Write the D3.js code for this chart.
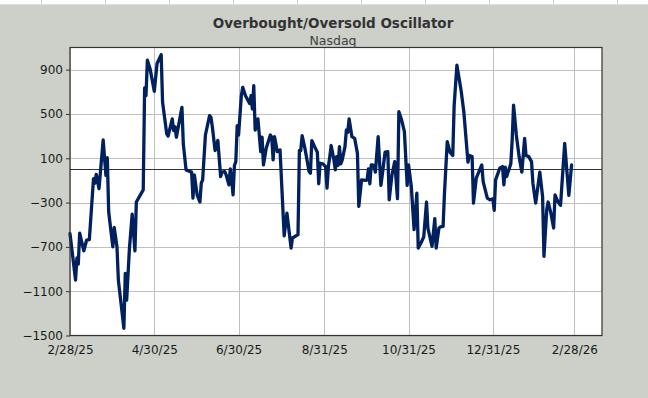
<!DOCTYPE html>
<html>
<head>
<meta charset="utf-8">
<script src="https://cdn.jsdelivr.net/npm/d3@7"></script>
<style>
  html, body { margin: 0; padding: 0; background: #CCD0C9; }
  svg { display: block; }
  text { font-family: "DejaVu Sans", Verdana, sans-serif; }
</style>
</head>
<body>
<svg id="chart" width="648" height="398"></svg>
<script>
const title = "Overbought/Oversold Oscillator";
const subtitle = "Nasdaq";

const dates = [
"2025-02-28","2025-03-04","2025-03-05","2025-03-06","2025-03-07","2025-03-10","2025-03-12","2025-03-14","2025-03-17","2025-03-18",
"2025-03-19","2025-03-21","2025-03-24","2025-03-26","2025-03-27","2025-03-28","2025-03-31","2025-04-01","2025-04-03","2025-04-04",
"2025-04-08","2025-04-09","2025-04-10","2025-04-12","2025-04-14","2025-04-16","2025-04-17","2025-04-22","2025-04-23","2025-04-24",
"2025-04-25","2025-04-27","2025-04-30","2025-05-02","2025-05-05","2025-05-06","2025-05-09","2025-05-10","2025-05-13","2025-05-14",
"2025-05-15","2025-05-16","2025-05-20","2025-05-21","2025-05-23","2025-05-27","2025-05-28","2025-05-29","2025-05-31","2025-06-02",
"2025-06-03","2025-06-04","2025-06-06","2025-06-09","2025-06-10","2025-06-11","2025-06-13","2025-06-15","2025-06-17","2025-06-18",
"2025-06-20","2025-06-21","2025-06-23","2025-06-24","2025-06-25","2025-06-26","2025-06-27","2025-06-28","2025-06-29","2025-06-30",
"2025-07-02","2025-07-03","2025-07-05","2025-07-08","2025-07-09","2025-07-10","2025-07-11","2025-07-12","2025-07-14","2025-07-16",
"2025-07-17","2025-07-18","2025-07-20","2025-07-23","2025-07-24","2025-07-25","2025-07-26","2025-07-28","2025-07-30","2025-08-02",
"2025-08-04","2025-08-07","2025-08-08","2025-08-12","2025-08-13","2025-08-14","2025-08-15","2025-08-17","2025-08-20","2025-08-21",
"2025-08-22","2025-08-24","2025-08-26","2025-08-27","2025-08-28","2025-08-30","2025-09-01","2025-09-02","2025-09-03","2025-09-04",
"2025-09-05","2025-09-07","2025-09-08","2025-09-09","2025-09-10","2025-09-11","2025-09-12","2025-09-13","2025-09-15","2025-09-16",
"2025-09-17","2025-09-18","2025-09-20","2025-09-22","2025-09-24","2025-09-25","2025-09-27","2025-09-30","2025-10-01","2025-10-02",
"2025-10-03","2025-10-04","2025-10-05","2025-10-06","2025-10-07","2025-10-09","2025-10-11","2025-10-12","2025-10-14","2025-10-16",
"2025-10-17","2025-10-19","2025-10-21","2025-10-22","2025-10-23","2025-10-24","2025-10-26","2025-10-28","2025-10-30","2025-10-31",
"2025-11-02","2025-11-04","2025-11-06","2025-11-07","2025-11-09","2025-11-11","2025-11-13","2025-11-14","2025-11-17","2025-11-19",
"2025-11-20","2025-11-22","2025-11-23","2025-11-25","2025-11-26","2025-11-28","2025-11-30","2025-12-02","2025-12-03","2025-12-05",
"2025-12-08","2025-12-10","2025-12-13","2025-12-14","2025-12-16","2025-12-17","2025-12-19","2025-12-23","2025-12-24","2025-12-27",
"2025-12-29","2025-12-31","2026-01-01","2026-01-02","2026-01-05","2026-01-07","2026-01-08","2026-01-09","2026-01-10","2026-01-13",
"2026-01-14","2026-01-15","2026-01-17","2026-01-19","2026-01-21","2026-01-23","2026-01-24","2026-01-26","2026-01-28","2026-01-29",
"2026-01-31","2026-02-03","2026-02-05","2026-02-06","2026-02-08","2026-02-09","2026-02-11","2026-02-13","2026-02-14","2026-02-16",
"2026-02-18","2026-02-21","2026-02-24","2026-02-26"
];

const values = [
-580,-1000,-800,-855,-575,-735,-640,-635,-85,-125,
-45,-175,265,-55,105,-385,-700,-525,-700,-1000,
-1435,-940,-1180,-715,-405,-735,-295,-185,735,665,
985,905,705,955,1035,605,320,300,455,350,
385,290,560,230,-5,-25,-260,-50,-230,-295,
-125,-95,310,485,470,385,170,260,-65,-25,
-20,-50,-140,5,-95,-230,35,70,395,310,
665,740,665,595,665,545,755,355,455,160,
290,40,190,310,290,85,295,160,175,-600,
-395,-710,-620,-590,170,170,305,190,-20,-35,
260,205,155,-130,55,50,25,-170,25,115,
215,85,-5,115,35,205,50,85,205,355,
335,455,295,280,145,-335,-95,-100,-95,5,
-130,40,40,25,-25,295,-145,-50,155,160,
-275,-50,70,-95,-265,520,445,340,-145,40,
-155,-545,-215,-710,-665,-610,-295,-530,-695,-445,
-710,-530,-520,-515,-215,250,155,125,575,940,
715,520,65,125,115,-305,-80,40,-110,-260,
-275,-265,-370,-95,10,25,-140,20,-65,50,
265,580,310,115,-25,280,125,115,70,-125,
-305,-25,-245,-785,-365,-295,-395,-530,-230,-290,
-325,235,-235,40
];

const xDomain = ["2025-02-28", "2026-03-20"];
const xTickDates = ["2025-02-28","2025-04-30","2025-06-30","2025-08-31","2025-10-31","2025-12-31","2026-02-28"];
const yDomain = [-1500, 1100];
const yTicks = [-1500, -1100, -700, -300, 100, 500, 900];

const parse = d3.utcParse("%Y-%m-%d");
const data = dates.map((d, i) => ({ date: parse(d), value: values[i] }));

const W = 648, H = 398;
const m = { left: 70, right: 602, top: 47.5, bottom: 335.5 };
const FONT = '"DejaVu Sans", Verdana, sans-serif';

const svg = d3.select("#chart");

// background
svg.append("rect").attr("x", 0).attr("y", 0).attr("width", W).attr("height", H).attr("fill", "#CCD0C9");
// spreadsheet strip at top
svg.append("rect").attr("x", 0).attr("y", 0).attr("width", W).attr("height", 4).attr("fill", "#ffffff");
const colLines = [41, 105, 169, 233, 297, 361, 425, 489, 553, 617];
svg.selectAll("line.col").data(colLines).enter().append("line")
  .attr("x1", d => d + 0.5).attr("x2", d => d + 0.5).attr("y1", 0).attr("y2", 4)
  .attr("stroke", "#d4d4d4").attr("stroke-width", 1);
svg.append("line").attr("x1", 0).attr("x2", W).attr("y1", 4.5).attr("y2", 4.5)
  .attr("stroke", "#dcdcdc").attr("stroke-width", 1);

const x = d3.scaleUtc().domain(xDomain.map(parse)).range([m.left, m.right]);
const y = d3.scaleLinear().domain(yDomain).range([m.bottom, m.top]);

// plot area
svg.append("rect").attr("x", m.left).attr("y", m.top).attr("width", m.right - m.left).attr("height", m.bottom - m.top)
  .attr("fill", "#ffffff");

// gridlines
svg.append("g").selectAll("line").data(yTicks).enter().append("line")
  .attr("x1", m.left).attr("x2", m.right)
  .attr("y1", d => Math.round(y(d)) + 0.5).attr("y2", d => Math.round(y(d)) + 0.5)
  .attr("stroke", "#bfbfbf").attr("stroke-width", 1);
svg.append("g").selectAll("line").data(xTickDates.map(parse)).enter().append("line")
  .attr("x1", d => Math.round(x(d)) + 0.5).attr("x2", d => Math.round(x(d)) + 0.5)
  .attr("y1", m.top).attr("y2", m.bottom)
  .attr("stroke", "#bfbfbf").attr("stroke-width", 1);

// zero line
svg.append("line").attr("x1", m.left).attr("x2", m.right)
  .attr("y1", Math.round(y(0)) + 0.5).attr("y2", Math.round(y(0)) + 0.5)
  .attr("stroke", "#333333").attr("stroke-width", 1);

// series line
const line = d3.line().x(d => x(d.date)).y(d => y(d.value));
svg.append("path").datum(data).attr("d", line)
  .attr("fill", "none").attr("stroke", "#00205E").attr("stroke-width", 3.3)
  .attr("stroke-linejoin", "round").attr("stroke-linecap", "round");

// border
svg.append("rect").attr("x", m.left).attr("y", m.top).attr("width", m.right - m.left).attr("height", m.bottom - m.top)
  .attr("fill", "none").attr("stroke", "#333333").attr("stroke-width", 1.2);

// y axis
const yAxis = d3.axisLeft(y).tickValues(yTicks).tickSize(4).tickPadding(3).tickFormat(d3.format("d"));
const gy = svg.append("g").attr("transform", `translate(${m.left},0)`).call(yAxis);
gy.select(".domain").remove();
gy.selectAll(".tick line").attr("stroke", "#333333");
gy.selectAll("text").attr("font-size", 12).attr("fill", "#1a1a1a").style("font-family", FONT);

// x axis
const xAxis = d3.axisBottom(x).tickValues(xTickDates.map(parse)).tickSize(0).tickPadding(10)
  .tickFormat(d3.utcFormat("%-m/%-d/%y"));
const gx = svg.append("g").attr("transform", `translate(0,${m.bottom})`).call(xAxis);
gx.select(".domain").remove();
gx.selectAll("text").attr("font-size", 12).attr("fill", "#1a1a1a").style("font-family", FONT);

// titles
svg.append("text").attr("x", 333).attr("y", 28).attr("text-anchor", "middle")
  .attr("font-size", 13.5).attr("font-weight", "bold").attr("fill", "#333333").text(title);
svg.append("text").attr("x", 333).attr("y", 45).attr("text-anchor", "middle")
  .attr("font-size", 12.5).attr("fill", "#404040").text(subtitle);
</script>
</body>
</html>
